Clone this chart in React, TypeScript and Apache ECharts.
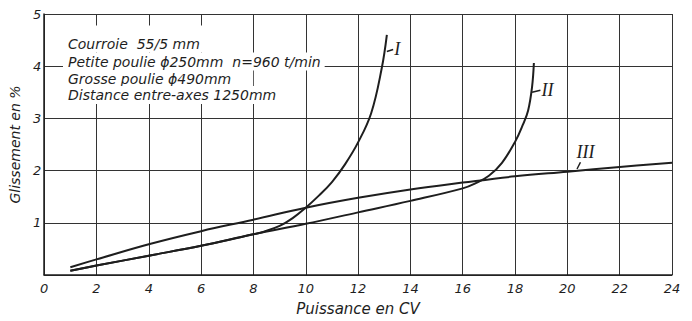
import React, { useEffect, useRef } from "react";
import * as echarts from "echarts";

// Curve III (upper, nearly straight)
const curveIIIx = [1, 2, 4, 6, 8, 10, 12, 14, 16, 18, 20, 22, 24];
const curveIIIy = [0.15, 0.3, 0.59, 0.84, 1.06, 1.29, 1.48, 1.64, 1.77, 1.89, 1.98, 2.07, 2.15];
// Curve I (shares lower line, rises steeply after ~8.4 CV)
const curveIx = [1, 2, 4, 6, 8, 8.4, 9, 9.5, 10, 10.5, 11, 11.5, 12, 12.5, 12.9, 13.1];
const curveIy = [0.08, 0.18, 0.37, 0.56, 0.78, 0.83, 0.94, 1.09, 1.29, 1.52, 1.78, 2.12, 2.54, 3.1, 3.95, 4.6];
// Curve II (lower line, rises steeply after ~16.5 CV)
const curveIIx = [1, 2, 4, 6, 8, 10, 12, 14, 16, 16.5, 17, 17.5, 18, 18.3, 18.5, 18.65, 18.72];
const curveIIy = [0.08, 0.18, 0.37, 0.56, 0.78, 0.98, 1.2, 1.42, 1.66, 1.76, 1.9, 2.15, 2.55, 2.88, 3.15, 3.6, 4.06];

const curveNames = ["I", "II", "III"];
const leaderFrom = [[13.1, 4.28], [18.65, 3.5], [20.37, 2.03]];
const leaderTo = [[13.34, 4.32], [18.97, 3.54], [20.5, 2.16]];

const infoLines = [
  "Courroie  55/5 mm",
  "Petite poulie \u03D5250mm  n=960 t/min",
  "Grosse poulie \u03D5490mm",
  "Distance entre-axes 1250mm",
];

const xTitle = "Puissance en CV";
const yTitle = "Glissement en %";

const FONT = "'DejaVu Sans', sans-serif";
const INK = "#1e1e1e";

function pairs(xs: number[], ys: number[]) {
  return xs.map((x, i) => [x, ys[i]]);
}

export default function App() {
  const ref = useRef<HTMLDivElement>(null);
  useEffect(() => {
    if (!ref.current) return;
    const chart = echarts.init(ref.current, null, { renderer: "svg" });
    const lineStyle = { color: INK, width: 2 };
    chart.setOption({
      animation: false,
      backgroundColor: "#fff",
      grid: { left: 43, right: 20, top: 14, bottom: 44 },
      xAxis: {
        type: "value",
        min: 0,
        max: 24,
        interval: 2,
        name: xTitle,
        nameLocation: "middle",
        nameGap: 26,
        nameTextStyle: { fontFamily: FONT, fontStyle: "italic", fontSize: 15, color: INK },
        axisLine: { show: true, lineStyle: { color: INK, width: 1.5 } },
        axisTick: { show: false },
        axisLabel: { fontFamily: FONT, fontStyle: "italic", fontSize: 13, color: INK, margin: 7 },
        splitLine: { show: true, lineStyle: { color: "#333", width: 1 } },
      },
      yAxis: {
        type: "value",
        min: 0,
        max: 5,
        interval: 1,
        name: yTitle,
        nameLocation: "middle",
        nameGap: 11,
        nameTextStyle: { fontFamily: FONT, fontStyle: "italic", fontSize: 14, color: INK },
        axisLine: { show: true, lineStyle: { color: INK, width: 1.5 } },
        axisTick: { show: false },
        axisLabel: { fontFamily: FONT, fontStyle: "italic", fontSize: 13, color: INK, margin: 3, showMinLabel: false },
        splitLine: { show: true, lineStyle: { color: "#333", width: 1 } },
      },
      series: [
        { name: "I", type: "line", data: pairs(curveIx, curveIy), smooth: 0.4, showSymbol: false, lineStyle, z: 5 },
        { name: "II", type: "line", data: pairs(curveIIx, curveIIy), smooth: 0.4, showSymbol: false, lineStyle, z: 5 },
        { name: "III", type: "line", data: pairs(curveIIIx, curveIIIy), smooth: 0.4, showSymbol: false, lineStyle, z: 5 },
      ],
    });

    const toPx = (p: number[]) => chart.convertToPixel({ gridIndex: 0 }, p) as number[];
    const graphics: any[] = [];
    curveNames.forEach((name, i) => {
      const a = toPx(leaderFrom[i]);
      const b = toPx(leaderTo[i]);
      graphics.push({
        type: "line",
        z: 50,
        shape: { x1: a[0], y1: a[1], x2: b[0], y2: b[1] },
        style: { stroke: INK, lineWidth: 1.5 },
      });
      const isAbove = i === 2;
      graphics.push({
        type: "text",
        z: 50,
        x: isAbove ? b[0] + 5 : b[0] + 1,
        y: isAbove ? b[1] - 1 : b[1],
        style: {
          text: name,
          fontFamily: "'Liberation Serif', serif",
          fontStyle: "italic",
          fontSize: 18,
          fill: INK,
          align: isAbove ? "center" : "left",
          verticalAlign: isAbove ? "bottom" : "middle",
        },
      });
    });

    const lineY = [43.5, 61.5, 79, 95];
    const pads = [
      [11, 6, 2, 5],
      [2, 4, 2, 5],
      [2, 22, 2, 5],
      [2, 6, 2, 5],
    ];
    infoLines.forEach((t, i) => {
      graphics.push({
        type: "text",
        z: 40,
        x: 63,
        y: lineY[i] - 7 - pads[i][0],
        style: {
          text: t,
          fontFamily: FONT,
          fontStyle: "italic",
          fontSize: 14,
          lineHeight: 14,
          fill: INK,
          align: "left",
          verticalAlign: "top",
          backgroundColor: "#fff",
          padding: pads[i],
        },
      });
    });
    chart.setOption({ graphic: graphics });

    return () => chart.dispose();
  }, []);
  return (
    <div
      ref={ref}
      style={{ position: "fixed", left: 0, top: 0, width: 692, height: 321, background: "#fff" }}
    />
  );
}
